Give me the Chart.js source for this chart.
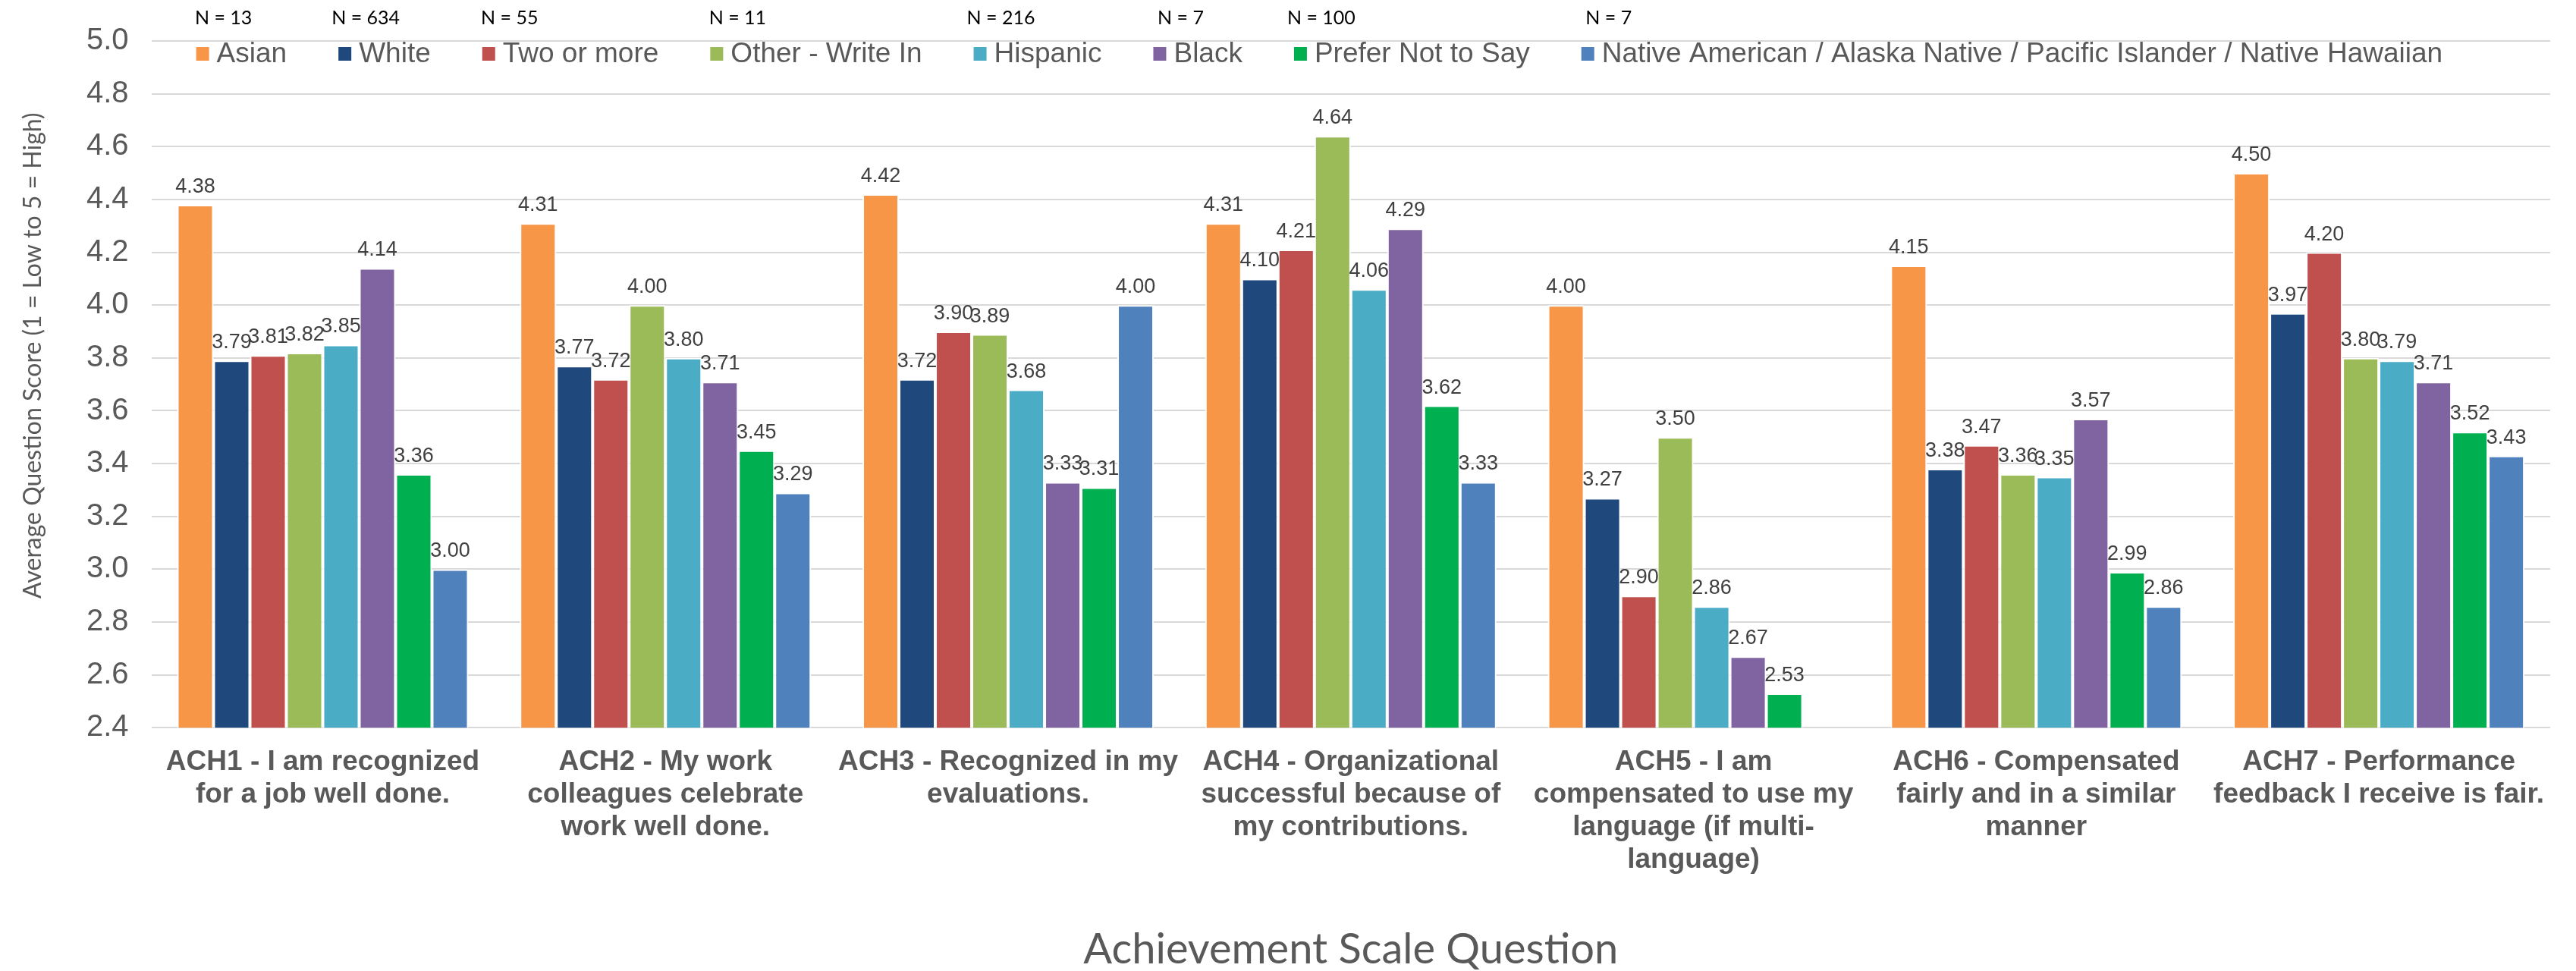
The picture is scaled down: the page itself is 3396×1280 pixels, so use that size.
<!DOCTYPE html>
<html lang="en">
<head>
<meta charset="UTF-8">
<title>Achievement Scale Question</title>
<script src="https://cdn.jsdelivr.net/npm/chart.js"></script>
<style>
  html, body { margin: 0; padding: 0; background: #ffffff; }
  #wrap { width: 3396px; height: 1280px; }
</style>
</head>
<body>
<div id="wrap"><canvas id="grafico"></canvas></div>
<script>
// questions (x axis)
var questions = [
    ['ACH1 - I am recognized', 'for a job well done.'],
    ['ACH2 - My work', 'colleagues celebrate', 'work well done.'],
    ['ACH3 - Recognized in my', 'evaluations.'],
    ['ACH4 - Organizational', 'successful because of', 'my contributions.'],
    ['ACH5 - I am', 'compensated to use my', 'language (if multi-', 'language)'],
    ['ACH6 - Compensated', 'fairly and in a similar', 'manner'],
    ['ACH7 - Performance', 'feedback I receive is fair.']
];

var groups = ['Asian', 'White', 'Two or more', 'Other - Write In', 'Hispanic', 'Black', 'Prefer Not to Say',
    'Native American / Alaska Native / Pacific Islander / Native Hawaiian'];
var groupCounts = ['N = 13', 'N = 634', 'N = 55', 'N = 11', 'N = 216', 'N = 7', 'N = 100', 'N = 7'];
var groupColors = ['#F79646', '#1F497D', '#C0504D', '#9BBB59', '#4BACC6', '#8064A2', '#00B050', '#4F81BD'];

// average score per question, one array per group
var asian     = [4.38, 4.31, 4.42, 4.31, 4.00, 4.15, 4.50];
var white     = [3.79, 3.77, 3.72, 4.10, 3.27, 3.38, 3.97];
var twoOrMore = [3.81, 3.72, 3.90, 4.21, 2.90, 3.47, 4.20];
var other     = [3.82, 4.00, 3.89, 4.64, 3.50, 3.36, 3.80];
var hispanic  = [3.85, 3.80, 3.68, 4.06, 2.86, 3.35, 3.79];
var black     = [4.14, 3.71, 3.33, 4.29, 2.67, 3.57, 3.71];
var preferNot = [3.36, 3.45, 3.31, 3.62, 2.53, 2.99, 3.52];
var native    = [3.00, 3.29, 4.00, 3.33, 2.39, 2.86, 3.43];

var yTicks = [2.4, 2.6, 2.8, 3.0, 3.2, 3.4, 3.6, 3.8, 4.0, 4.2, 4.4, 4.6, 4.8, 5.0];
var yTitle = 'Average Question Score (1 = Low to 5 = High)';

var series = [asian, white, twoOrMore, other, hispanic, black, preferNot, native];

var datasets = [];
for (var i = 0; i < series.length; i++) {
    datasets.push({
        label: groups[i],
        data: series[i],
        backgroundColor: groupColors[i],
        borderColor: '#ffffff',
        borderWidth: 2,
        borderSkipped: 'start',
        barPercentage: 1,
        categoryPercentage: 0.85
    });
}

// value labels above bars
var valueLabels = {
    id: 'valueLabels',
    afterDatasetsDraw: function (chart) {
        var ctx = chart.ctx;
        var yMin = chart.scales.y.min;
        ctx.save();
        ctx.font = '27px "Liberation Sans", Arial, sans-serif';
        ctx.fillStyle = '#404040';
        ctx.textAlign = 'center';
        ctx.textBaseline = 'alphabetic';
        chart.data.datasets.forEach(function (ds, d) {
            var meta = chart.getDatasetMeta(d);
            meta.data.forEach(function (bar, j) {
                var v = ds.data[j];
                if (v < yMin) return;
                ctx.fillText(v.toFixed(2), bar.x, bar.y - 16);
            });
        });
        ctx.restore();
    }
};

// legend inside the plot, with the N counts above it, plus the y title
var topLegend = {
    id: 'topLegend',
    afterDraw: function (chart) {
        var ctx = chart.ctx;
        var area = chart.chartArea;
        var x = area.left + 59;
        var y = area.top + 17;
        ctx.save();
        ctx.textBaseline = 'middle';
        chart.data.datasets.forEach(function (ds, i) {
            ctx.fillStyle = ds.backgroundColor;
            ctx.fillRect(x, y - 9, 17, 18);
            ctx.font = '37px "Liberation Sans", Arial, sans-serif';
            ctx.fillStyle = '#595959';
            ctx.textAlign = 'left';
            ctx.fillText(ds.label, x + 27, y + 1);
            var w = ctx.measureText(ds.label).width;
            ctx.font = '25px Lato, sans-serif';
            ctx.fillStyle = '#000000';
            ctx.textAlign = 'center';
            ctx.fillText(groupCounts[i], x + 36, 24);
            x += 27 + w + 68;
        });

        // y axis title (sits a bit above the plot centre, as in the original)
        ctx.translate(44, (area.top + area.bottom) / 2 - 38);
        ctx.rotate(-Math.PI / 2);
        ctx.font = '32px Lato, sans-serif';
        ctx.fillStyle = '#595959';
        ctx.textAlign = 'center';
        ctx.fillText(yTitle, 0, 0);
        ctx.restore();
    }
};

var ctx = document.getElementById('grafico').getContext('2d');
new Chart(ctx, {
    type: 'bar',
    data: {
        labels: questions,
        datasets: datasets
    },
    plugins: [valueLabels, topLegend],
    options: {
        responsive: true,
        maintainAspectRatio: false,
        animation: false,
        layout: {
            padding: { top: 22, right: 34, bottom: 0, left: 84 }
        },
        plugins: {
            legend: { display: false },
            tooltip: { enabled: false }
        },
        scales: {
            x: {
                grid: { display: false },
                border: { display: false },
                ticks: {
                    autoSkip: false,
                    maxRotation: 0,
                    padding: 16,
                    color: '#595959',
                    font: { family: '"Liberation Sans", Arial, sans-serif', size: 37, weight: 'bold', lineHeight: 1.16 }
                },
                title: {
                    display: true,
                    text: 'Achievement Scale Question',
                    color: '#595959',
                    font: { family: 'Lato, sans-serif', size: 56, lineHeight: 1.0 },
                    padding: { top: 53, bottom: 0 }
                }
            },
            y: {
                min: 2.4,
                max: 5.0,
                afterBuildTicks: function (axis) {
                    axis.ticks = yTicks.map(function (v) { return { value: v }; });
                },
                grid: { color: '#D9D9D9', lineWidth: 2, drawTicks: false },
                border: { display: false },
                ticks: {
                    padding: 30,
                    color: '#595959',
                    font: { family: '"Liberation Sans", Arial, sans-serif', size: 40 },
                    callback: function (v) { return Number(v).toFixed(1); }
                }
            }
        }
    }
});
</script>
</body>
</html>
